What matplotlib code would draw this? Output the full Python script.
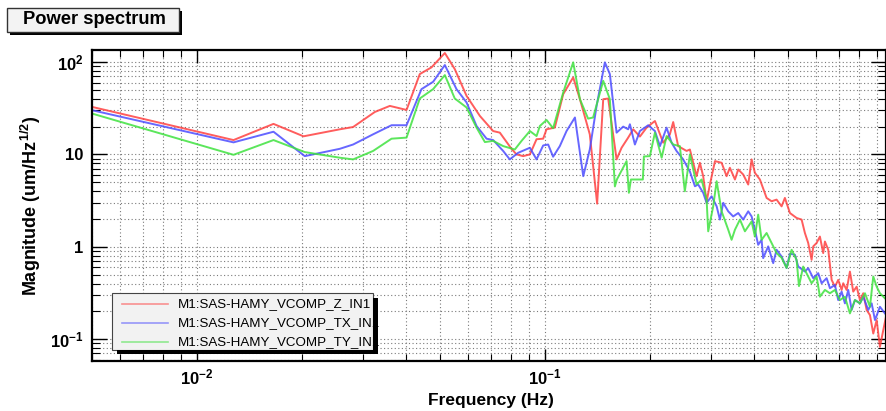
import numpy as np
import matplotlib
matplotlib.use("Agg")
import matplotlib.pyplot as plt
from matplotlib.patches import Rectangle
from matplotlib.lines import Line2D
from matplotlib.ticker import LogLocator, NullFormatter

plt.rcParams['font.family'] = ['Liberation Sans', 'DejaVu Sans']
plt.rcParams['mathtext.fontset'] = 'custom'
plt.rcParams['mathtext.rm'] = 'Liberation Sans'
plt.rcParams['mathtext.bf'] = 'Liberation Sans:bold'

# channel names
names = ['M1:SAS-HAMY_VCOMP_Z_IN1', 'M1:SAS-HAMY_VCOMP_TX_IN1', 'M1:SAS-HAMY_VCOMP_TY_IN1']
colors = ['#ff4040', '#4c4cff', '#3fe23f']

# Z channel
freq_z = [0.0050, 0.01275, 0.01661, 0.02026, 0.02576, 0.02813, 0.03247, 0.03586, 0.04005, 0.04372,
          0.04724, 0.05160, 0.05510, 0.05957, 0.06505, 0.07102, 0.07424, 0.08019, 0.08289, 0.08661,
          0.09055, 0.09465, 0.09888, 0.1011, 0.1068, 0.1129, 0.1206, 0.1261, 0.1346, 0.1413,
          0.1471, 0.1520, 0.1607, 0.1661, 0.1735, 0.1794, 0.1875, 0.1960, 0.2071, 0.2187,
          0.2286, 0.2337, 0.2415, 0.2553, 0.2610, 0.2728, 0.2788, 0.2850, 0.2915, 0.2979,
          0.3081, 0.3219, 0.3327, 0.3400, 0.3516, 0.3593, 0.3713, 0.3839, 0.3926, 0.4012,
          0.4147, 0.4335, 0.4480, 0.4631, 0.4787, 0.4893, 0.5058, 0.5287, 0.5465, 0.5585,
          0.5708, 0.5838, 0.5902, 0.6035, 0.6168, 0.6304, 0.6376, 0.6517, 0.6666, 0.6812,
          0.6962, 0.7121, 0.7197, 0.7361, 0.7523, 0.7689, 0.7865, 0.8039, 0.8217, 0.8402,
          0.8589, 0.8779, 0.8978, 0.9175, 0.9378, 0.9592]
mag_z = [32.7, 14.3, 21.4, 15.7, 18.7, 19.8, 28.8, 33.5, 30.3, 74.1,
         87.6, 125.2, 83.9, 43.0, 26.1, 17.9, 17.2, 11.5, 10.0, 9.58,
         10.0, 14.6, 14.8, 18.7, 19.5, 44.9, 68.2, 39.6, 16.5, 2.93,
         39.6, 40.3, 8.83, 11.8, 15.2, 18.7, 15.6, 19.5, 23.0, 13.4,
         16.5, 22.4, 12.3, 10.9, 11.3, 5.81, 8.12, 5.81, 3.08, 4.72,
         8.46, 8.12, 5.81, 7.17, 5.35, 6.87, 6.06, 4.72, 8.83, 6.32,
         5.35, 3.38, 3.11, 3.24, 2.74, 3.38, 2.32, 2.05, 1.97, 1.41,
         1.10, 0.722, 1.01, 1.10, 1.29, 0.854, 1.14, 0.928, 0.438, 0.370,
         0.438, 0.341, 0.403, 0.341, 0.539, 0.327, 0.370, 0.265, 0.314, 0.207,
         0.182, 0.115, 0.161, 0.0824, 0.125, 0.190]

# TX channel
freq_tx = [0.0050, 0.01275, 0.01661, 0.02043, 0.02576, 0.02813, 0.03210, 0.03627, 0.04005, 0.04421,
           0.04775, 0.05160, 0.05573, 0.05957, 0.06364, 0.06800, 0.07102, 0.07589, 0.07929, 0.08377,
           0.09055, 0.09465, 0.09888, 0.1022, 0.1056, 0.1104, 0.1154, 0.1220, 0.1289, 0.1346,
           0.1408, 0.1487, 0.1537, 0.1607, 0.1679, 0.1735, 0.1755, 0.1814, 0.1875, 0.1981,
           0.2071, 0.2141, 0.2237, 0.2312, 0.2389, 0.2496, 0.2610, 0.2698, 0.2757, 0.2850,
           0.2915, 0.3013, 0.3115, 0.3183, 0.3254, 0.3363, 0.3475, 0.3593, 0.3713, 0.3839,
           0.3926, 0.4012, 0.4100, 0.4194, 0.4238, 0.4381, 0.4529, 0.4631, 0.4787, 0.4948,
           0.5058, 0.5228, 0.5343, 0.5585, 0.5708, 0.5902, 0.6099, 0.6238, 0.6448, 0.6591,
           0.6812, 0.6962, 0.7121, 0.7278, 0.7439, 0.7608, 0.7777, 0.8039, 0.8217, 0.8492,
           0.8686, 0.8878, 0.9175, 0.9484]
mag_tx = [30.1, 13.5, 17.6, 9.58, 11.5, 12.8, 16.5, 20.7, 20.7, 50.9,
          61.1, 92.8, 50.9, 36.5, 20.3, 14.8, 14.3, 10.9, 8.83, 10.4,
          11.8, 8.83, 12.5, 12.8, 9.44, 12.3, 17.9, 25.1, 5.81, 11.3,
          33.5, 99.2, 74.1, 17.2, 20.0, 18.7, 21.2, 12.8, 17.9, 20.7,
          17.9, 12.3, 19.5, 13.4, 10.9, 8.83, 6.53, 4.52, 4.72, 3.84,
          2.99, 3.52, 2.74, 1.97, 2.99, 2.42, 2.13, 2.32, 1.97, 2.42,
          2.13, 1.53, 1.05, 1.19, 0.754, 1.01, 0.665, 0.928, 0.785, 0.59,
          0.84, 0.82, 0.611, 0.539, 0.587, 0.457, 0.518, 0.403, 0.457, 0.356,
          0.386, 0.265, 0.327, 0.244, 0.341, 0.207, 0.265, 0.244, 0.288, 0.207,
          0.244, 0.161, 0.224, 0.190]

# TY channel
freq_ty = [0.0050, 0.01275, 0.01661, 0.02043, 0.02576, 0.02813, 0.03210, 0.03627, 0.04005, 0.04372,
           0.04775, 0.05160, 0.05510, 0.05957, 0.06364, 0.06724, 0.07102, 0.07589, 0.08196, 0.08570,
           0.09055, 0.09465, 0.09674, 0.1011, 0.1056, 0.1129, 0.1206, 0.1261, 0.1331, 0.1376,
           0.1471, 0.1537, 0.1589, 0.1610, 0.1717, 0.1743, 0.1767, 0.1912, 0.1925, 0.2003,
           0.2071, 0.2165, 0.2237, 0.2337, 0.2442, 0.2524, 0.2610, 0.2728, 0.2820, 0.2915,
           0.2946, 0.3045, 0.3115, 0.3219, 0.3363, 0.3439, 0.3516, 0.3634, 0.3756, 0.3926,
           0.4012, 0.4100, 0.4194, 0.4335, 0.4480, 0.4631, 0.4787, 0.4948, 0.5115, 0.5287,
           0.5370, 0.5522, 0.5708, 0.5838, 0.6035, 0.6168, 0.6376, 0.6591, 0.6812, 0.7041,
           0.7278, 0.7523, 0.7777, 0.8039, 0.8309, 0.8589, 0.8779, 0.8978, 0.9175, 0.9592]
mag_ty = [27.7, 9.9, 14.3, 10.6, 9.21, 8.83, 10.9, 14.8, 15.2, 40.3,
          50.9, 72.2, 40.3, 32.2, 19.5, 13.6, 14.0, 12.3, 11.3, 14.0,
          17.9, 15.8, 20.3, 23.6, 19.2, 46.8, 99.2, 39.6, 24.4, 25.1,
          62.6, 39.6, 4.5, 5.35, 8.46, 3.84, 5.35, 5.35, 9.5, 9.58,
          17.2, 9.21, 15.8, 12.8, 12.3, 3.99, 10.0, 4.72, 5.35, 3.24,
          1.47, 2.74, 5.13, 2.42, 1.53, 1.19, 1.53, 1.97, 1.47, 1.88,
          1.29, 2.23, 1.19, 1.41, 1.10, 0.854, 0.76, 0.59, 0.928, 0.722,
          0.375, 0.611, 0.476, 0.403, 0.476, 0.288, 0.341, 0.314, 0.341, 0.265,
          0.288, 0.190, 0.265, 0.244, 0.314, 0.224, 0.476, 0.370, 0.314, 0.265]

W, H = 887, 411
fig = plt.figure(figsize=(W / 100, H / 100), dpi=100)

def fx(px):
    return px / W

def fy(py):
    return 1 - py / H

left, right, top, bottom = 92, 886, 50, 361
ax = fig.add_axes([fx(left), fy(bottom), fx(right - left), (bottom - top) / H])

series = [(freq_z, mag_z), (freq_tx, mag_tx), (freq_ty, mag_ty)]
for (f, m), c in zip(series, colors):
    ax.plot(f, m, color=c, lw=1.4, alpha=0.85)

ax.set_xscale('log')
ax.set_yscale('log')
ax.set_xlim(0.005, 0.955)
ax.set_ylim(0.058, 135)

ax.set_xticks([0.01, 0.1], labels=[r'$\mathbf{10^{-2}}$', r'$\mathbf{10^{-1}}$'])
ax.set_yticks([0.1, 1, 10, 100], labels=[r'$\mathbf{10^{-1}}$', '1', '10', r'$\mathbf{10^{2}}$'])
for axis in (ax.xaxis, ax.yaxis):
    axis.set_minor_locator(LogLocator(base=10, subs=np.arange(2, 10)))
    axis.set_minor_formatter(NullFormatter())

ax.tick_params(which='both', direction='in', top=True, right=True, color='black',
               labelsize=12)
ax.tick_params(axis='x', which='major', length=9, width=1.0, pad=5)
ax.tick_params(axis='x', which='minor', length=5, width=0.8)
ax.tick_params(axis='y', which='major', length=11, width=1.0, pad=6)
ax.tick_params(axis='y', which='minor', length=6, width=0.8)
for lab in ax.get_xticklabels() + ax.get_yticklabels():
    lab.set_fontweight('bold')

ax.grid(True, which='both', color='#7a7a7a', lw=0.8, ls=(0, (1, 2.2)))
ax.set_axisbelow(True)
for s in ax.spines.values():
    s.set_linewidth(1.6)

fig.text(fx(491), fy(400), 'Frequency (Hz)', ha='center', va='center',
         fontsize=12.5, fontweight='bold')
fig.text(fx(31), fy(206), r'Magnitude (um/Hz$^{\mathbf{1/2}}$)', ha='center', va='center',
         rotation=90, fontsize=13, fontweight='bold')

# title box with drop shadow
fig.add_artist(Rectangle((fx(10), fy(35)), fx(172), (35 - 11) / H, transform=fig.transFigure,
                         facecolor='black', edgecolor='none'))
fig.add_artist(Rectangle((fx(7), fy(32)), fx(172), (32 - 8) / H, transform=fig.transFigure,
                         facecolor='#f3f3f3', edgecolor='#333333', lw=1))
fig.text(fx(94), fy(20), 'Power spectrum', ha='center', va='center',
         fontsize=13.2, fontweight='bold')

# legend box
lx0, ly0, lx1, ly1 = 112, 293, 373, 350
fig.add_artist(Rectangle((fx(lx0), fy(ly1)), fx(lx1 - lx0), (ly1 - ly0) / H,
                         transform=fig.transFigure, facecolor='#f2f2f2',
                         edgecolor='#444444', lw=0.8, zorder=5))
rows = [304, 323, 342]
for name, c, ry in zip(names, colors, rows):
    fig.add_artist(Line2D([fx(122), fx(168)], [fy(ry), fy(ry)], color=c, lw=1.2,
                          alpha=0.55, transform=fig.transFigure, zorder=6))
    fig.text(fx(178), fy(ry), name, ha='left', va='center', fontsize=9.6, zorder=6)
# shadow on right and bottom edge drawn over the text
fig.add_artist(Rectangle((fx(lx1), fy(ly1 + 4)), fx(5), (ly1 + 4 - ly0 - 5) / H,
                         transform=fig.transFigure, facecolor='black', edgecolor='none', zorder=7))
fig.add_artist(Rectangle((fx(lx0 + 5), fy(ly1 + 4)), fx(lx1 + 5 - lx0 - 5), 4 / H,
                         transform=fig.transFigure, facecolor='black', edgecolor='none', zorder=7))

fig.savefig('out.png', dpi=100)
